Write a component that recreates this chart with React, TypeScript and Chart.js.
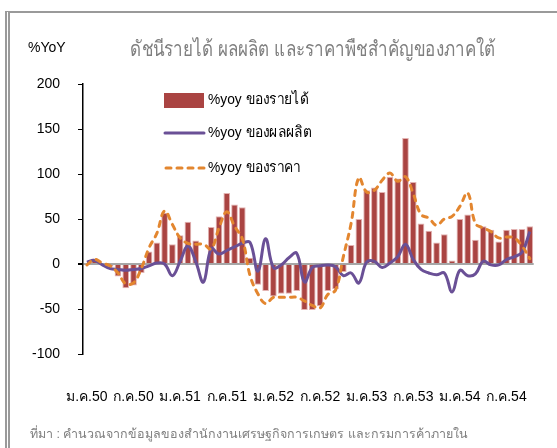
import React, { useEffect, useRef } from "react";
import { Chart, registerables } from "chart.js";

Chart.register(...registerables);

const monthNames = ["ม.ค.", "ก.พ.", "มี.ค.", "เม.ย.", "พ.ค.", "มิ.ย.", "ก.ค.", "ส.ค.", "ก.ย.", "ต.ค.", "พ.ย.", "ธ.ค."];
const years = ["50", "51", "52", "53", "54"];
const monthCount = 58;
const categories: string[] = [];
for (let i = 0; i < monthCount; i++) {
  categories.push(monthNames[i % 12] + years[Math.floor(i / 12)]);
}
const tickLabels = ["ม.ค.50", "ก.ค.50", "ม.ค.51", "ก.ค.51", "ม.ค.52", "ก.ค.52", "ม.ค.53", "ก.ค.53", "ม.ค.54", "ก.ค.54"];

const incomeYoY = [
  1, 6, 0, -3, -14, -27, -24, -10, 14, 24,
  57, 22, 32, 47, 26, 0, 41, 53, 79, 66,
  63, 7, -23, -30, -36, -33, -33, -30, -51, -51,
  -47, -30, -28, -9, 21, 50, 82, 85, 80, 97,
  95, 140, 91, 45, 37, 24, 33, 4, 50, 55,
  27, 42, 38, 25, 38, 39, 39, 42,
];
const productionYoY = [
  2, 4, -1, -5, -6, -7, -6, -5, -2, 1,
  0, -13, 3, 20, 3, -20, 17, 11, 15, 19,
  23, 24, -8, 28, -4, -1, 7, 12, -20, -4,
  -2, -1, -3, -13, -10, -21, 2, 3, -4, 1,
  8, 22, 5, -6, -10, -12, -10, -31, -7, -13,
  -11, 3, -1, -1, 5, 8, 13, 36,
];
const priceYoY = [
  -1, 5, 1, -2, -10, -22, -21, -5, 18, 34,
  59, 44, 29, 23, 22, 22, 17, 40, 58, 42,
  28, -13, -33, -44, -37, -37, -37, -37, -41, -46,
  -49, -34, -29, 8, 45, 96, 80, 82, 93, 101,
  92, 97, 78, 55, 51, 43, 50, 53, 64, 79,
  45, 40, 36, 29, 30, 29, 20, 6,
];
const yTicks = { min: -100, max: 200, step: 50 };

const seriesNames = ["%yoy ของรายได้", "%yoy ของผลผลิต", "%yoy ของราคา"];
const titleText = "ดัชนีรายได้ ผลผลิต และราคาพืชสำคัญของภาคใต้";
const unitText = "%YoY";
const sourceText = "ที่มา : คำนวณจากข้อมูลของสำนักงานเศรษฐกิจการเกษตร และกรมการค้าภายใน";

const BAR = "#AA4442";
const BAR_EDGE = "#E3B3B2";
const PURPLE = "#6A5096";
const ORANGE = "#E3862F";
const FONT = "'Liberation Sans', Arial, 'DejaVu Sans', sans-serif";

const legendPlugin = {
  id: "insideLegend",
  afterDatasetsDraw(chart: any) {
    const { ctx, chartArea } = chart;
    const x0 = chartArea.left + 81;
    const rows = [chartArea.top + 16, chartArea.top + 49, chartArea.top + 84];
    ctx.save();
    ctx.fillStyle = BAR;
    ctx.fillRect(x0, rows[0] - 7, 40, 15);
    ctx.strokeStyle = PURPLE;
    ctx.lineWidth = 3;
    ctx.lineCap = "round";
    ctx.beginPath();
    ctx.moveTo(x0 + 1, rows[1]);
    ctx.lineTo(x0 + 40, rows[1]);
    ctx.stroke();
    ctx.strokeStyle = ORANGE;
    ctx.setLineDash([5, 6]);
    ctx.beginPath();
    ctx.moveTo(x0 + 2, rows[2]);
    ctx.lineTo(x0 + 40, rows[2]);
    ctx.stroke();
    ctx.setLineDash([]);
    ctx.fillStyle = "#000";
    ctx.font = "15px " + FONT;
    ctx.textBaseline = "middle";
    ctx.textAlign = "left";
    seriesNames.forEach((n, i) => {
      ctx.save();
      ctx.translate(x0 + 44, rows[i]);
      ctx.scale(0.92, 1);
      ctx.fillText(n, 0, 0);
      ctx.restore();
    });
    ctx.restore();
  },
};

export default function App() {
  const ref = useRef<HTMLCanvasElement>(null);
  useEffect(() => {
    const chart = new Chart(ref.current as HTMLCanvasElement, {
      type: "bar",
      data: {
        labels: categories,
        datasets: [
          {
            type: "bar",
            label: seriesNames[0],
            data: incomeYoY,
            backgroundColor: BAR,
            borderColor: BAR_EDGE,
            borderWidth: 1,
            categoryPercentage: 0.86,
            barPercentage: 1,
            order: 3,
          } as any,
          {
            type: "line",
            label: seriesNames[1],
            data: productionYoY,
            borderColor: PURPLE,
            borderWidth: 3,
            pointRadius: 0,
            tension: 0.4,
            fill: false,
            order: 2,
          },
          {
            type: "line",
            label: seriesNames[2],
            data: priceYoY,
            borderColor: ORANGE,
            borderWidth: 3,
            borderDash: [5, 6],
            borderCapStyle: "round",
            pointRadius: 0,
            tension: 0.4,
            fill: false,
            order: 1,
          },
        ],
      },
      options: {
        animation: false,
        responsive: false,
        maintainAspectRatio: false,
        layout: { padding: { top: 84, right: 22, left: 0, bottom: 0 } },
        plugins: {
          legend: { display: false },
          tooltip: { enabled: false },
          title: { display: false },
        },
        scales: {
          x: {
            grid: { display: false },
            border: { display: false },
            ticks: {
              autoSkip: false,
              maxRotation: 0,
              minRotation: 0,
              padding: 27,
              color: "#000",
              font: { size: 14, family: FONT },
              callback: (_v: any, i: number) => (i % 6 === 0 ? tickLabels[i / 6] ?? "" : ""),
            },
            afterFit: (s: any) => {
              s.height = 94;
            },
          },
          y: {
            min: yTicks.min,
            max: yTicks.max,
            ticks: {
              stepSize: yTicks.step,
              padding: 18,
              color: "#000",
              font: { size: 14, family: FONT },
            },
            grid: {
              drawOnChartArea: true,
              color: (c: any) => (c.tick && c.tick.value === 0 ? "#A6A6A6" : "rgba(0,0,0,0)"),
              lineWidth: (c: any) => (c.tick && c.tick.value === 0 ? 2 : 1),
              tickColor: "#000",
              tickLength: 5,
            },
            border: { color: "#000", width: 1.5 },
            afterFit: (s: any) => {
              s.width = 83;
            },
          },
        },
      },
      plugins: [legendPlugin],
    });
    return () => chart.destroy();
  }, []);

  return (
    <div style={{ position: "fixed", left: 0, top: 0, width: 557, height: 448, overflow: "hidden", background: "#fff" }}>
      <div
        style={{
          position: "absolute",
          left: 5,
          top: 11,
          width: 700,
          height: 600,
          borderLeft: "5px double #9a9a9a",
          borderTop: "2px solid #9a9a9a",
        }}
      />
      <canvas ref={ref} width={557} height={448} style={{ position: "absolute", left: 0, top: 0, display: "block" }} />
      <div style={{ position: "absolute", left: 28, top: 39, font: "14px " + FONT, color: "#000" }}>{unitText}</div>
      <div
        style={{
          position: "absolute",
          left: 313,
          top: 32,
          transform: "translateX(-50%) scaleX(0.81)",
          font: "21px " + FONT,
          color: "#7F7F7F",
          whiteSpace: "nowrap",
        }}
      >
        {titleText}
      </div>
      <div
        style={{
          position: "absolute",
          left: 30,
          top: 424,
          font: "12.5px " + FONT,
          color: "#808080",
          whiteSpace: "nowrap",
        }}
      >
        {sourceText}
      </div>
    </div>
  );
}
